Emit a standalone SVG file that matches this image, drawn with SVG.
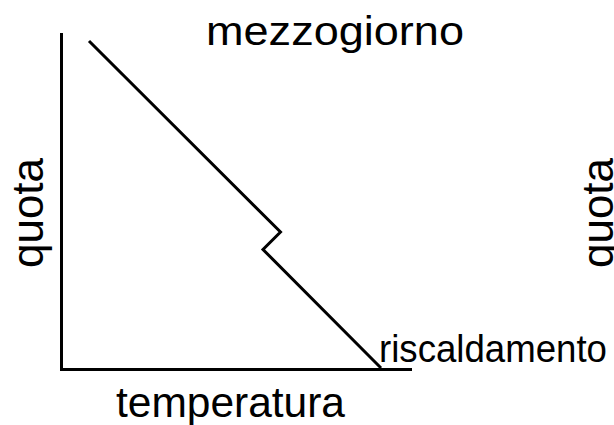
<svg xmlns="http://www.w3.org/2000/svg" width="614" height="425" viewBox="0 0 614 425">
<style>
.ln{fill:none;stroke:#000;stroke-width:3;}
.t{font-family:"Liberation Sans",Arial,sans-serif;fill:#000;}
</style>
<rect width="614" height="425" fill="#fff"/>
<g id="connectors">
<line class="ln" x1="61.5" y1="33" x2="61.5" y2="370.5"/>
<line class="ln" x1="60" y1="369.5" x2="412" y2="369.5"/>
<polyline class="ln" points="89,41 280.5,232 263,249.5 381,368"/>
</g>
<g id="title"><text class="t" x="206" y="45" font-size="40" textLength="258" lengthAdjust="spacingAndGlyphs">mezzogiorno</text></g>
<g id="xlabel"><text class="t" x="116" y="417" font-size="42" textLength="229" lengthAdjust="spacingAndGlyphs">temperatura</text></g>
<g id="riscaldamento"><text class="t" x="379" y="362" font-size="38" textLength="228" lengthAdjust="spacingAndGlyphs">riscaldamento</text></g>
<g id="ylabel"><text class="t" transform="translate(43,213) rotate(-90)" text-anchor="middle" font-size="44">quota</text></g>
<g id="ylabel2"><text class="t" transform="translate(613,213) rotate(-90)" text-anchor="middle" font-size="44">quota</text></g>
</svg>
